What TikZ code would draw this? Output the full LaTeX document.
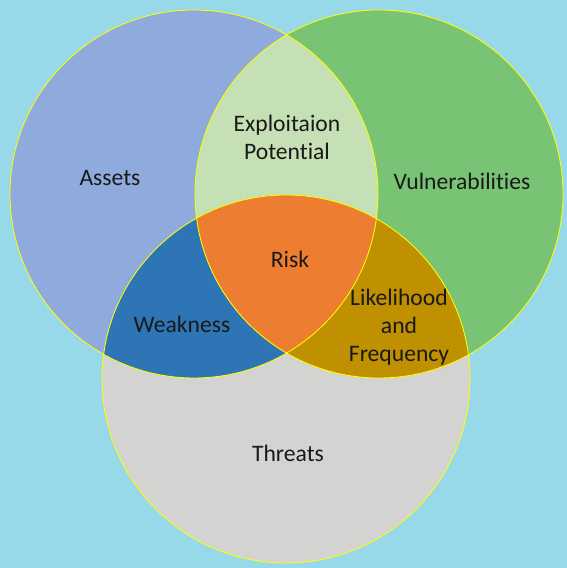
\documentclass[tikz,border=0pt]{standalone}
\usepackage{fontspec}
\setmainfont[Ligatures=NoCommon]{Carlito}
\usetikzlibrary{positioning}
\definecolor{vennBg}{HTML}{97D9E9}
\definecolor{vennLine}{HTML}{FFFF00}
\definecolor{assetsBlue}{HTML}{8FAADC}
\definecolor{vulnGreen}{HTML}{78C474}
\definecolor{threatGray}{HTML}{D3D3D1}
\definecolor{exploitGreen}{HTML}{C5E0B4}
\definecolor{weakBlue}{HTML}{2E75B6}
\definecolor{likeGold}{HTML}{BF9000}
\definecolor{riskOrange}{HTML}{ED7D31}
\tikzset{
  setLine/.style={draw=vennLine, line width=0.6pt},
  vennLabel/.style={align=center, font=\fontsize{16.8}{20}\selectfont,
                    text=black!90, inner sep=1pt},
}

\begin{document}
\begin{tikzpicture}
  \fill[vennBg] (0,0) rectangle (14.175,14.2);
  \useasboundingbox (0,0) rectangle (14.175,14.2);
  \coordinate (cA) at (4.85,9.35);
  \coordinate (cV) at (9.475,9.35);
  \coordinate (cT) at (7.15,4.725);
  % the three sets
  \fill[assetsBlue] (cA) circle (4.6);
  \fill[vulnGreen] (cV) circle (4.6);
  \fill[threatGray] (cT) circle (4.6);
  % pairwise overlaps
  \begin{scope}
    \clip (cA) circle (4.6);
    \fill[exploitGreen] (cV) circle (4.6);
    \fill[weakBlue] (cT) circle (4.6);
  \end{scope}
  \begin{scope}
    \clip (cV) circle (4.6);
    \fill[likeGold] (cT) circle (4.6);
    \clip (cA) circle (4.6);
    \fill[riskOrange] (cT) circle (4.6);
  \end{scope}
  \draw[setLine] (cA) circle (4.6);
  \draw[setLine] (cV) circle (4.6);
  \draw[setLine] (cT) circle (4.6);
  % labels
  \node[vennLabel] (assets) at (2.75,9.75) {Assets};
  \node[vennLabel] (exploit) at (7.175,10.775) {Exploitaion\\Potential};
  \node[vennLabel] (vuln) at (11.55,9.675) {Vulnerabilities};
  \node[vennLabel] (risk) at (7.25,7.725) {Risk};
  \node[vennLabel] (weak) at (4.55,6.1) {Weakness};
  \node[vennLabel] (likely) at (9.975,6.025) {Likelihood\\and\\Frequency};
  \node[vennLabel] (threats) at (7.2,2.875) {Threats};
\end{tikzpicture}
\end{document}
